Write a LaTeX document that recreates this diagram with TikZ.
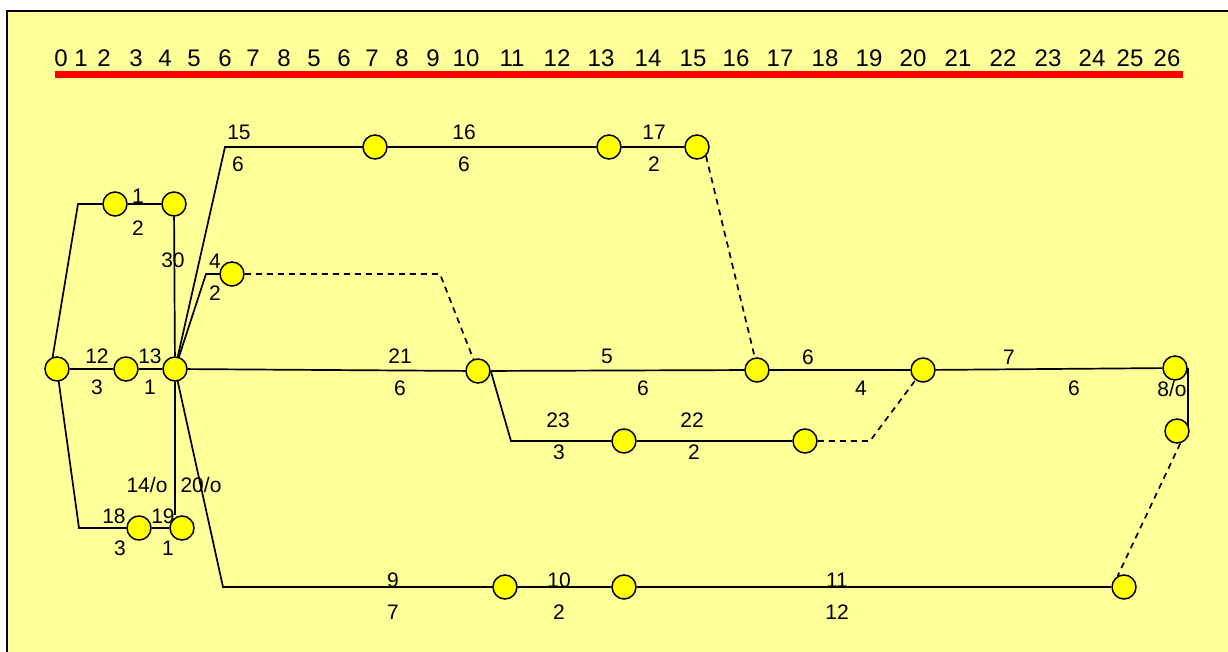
\documentclass[tikz,border=0pt]{standalone}
\usepackage{fontspec}
\setmainfont{Liberation Sans}
\pgfdeclarelayer{back}
\pgfdeclarelayer{bg}
\pgfsetlayers{back,bg,main}
\definecolor{paper}{RGB}{255,255,153}
\definecolor{ev}{RGB}{255,255,0}
\begin{document}
\begin{tikzpicture}[x=1pt,y=-1pt,
  event/.style={circle,draw=black,fill=ev,line width=1.5pt,minimum size=24pt,inner sep=0pt},
  lab/.style={font=\fontsize{21}{24}\selectfont,inner sep=0pt},
  tl/.style={font=\fontsize{24}{28}\selectfont,inner sep=0pt},
  act/.style={line width=1.7pt,draw=black},
  dum/.style={line width=1.7pt,draw=black,dash pattern=on 6pt off 5pt}]
\useasboundingbox (0,0) rectangle (1228,652);
\begin{pgfonlayer}{back}
  \fill[white] (0,0) rectangle (1228,652);
  \begin{scope}
    \clip (0,0) rectangle (1228,652);
    \filldraw[fill=paper,draw=black,line width=2pt] (7,11) rectangle (1240,670);
  \end{scope}
\end{pgfonlayer}

% time scale
\foreach \x/\t [count=\i] in {61/0,81/1,104/2,136/3,165/4,194/5,225/6,253/7,284/8,314/5,344/6,372/7,402/8,433/9,466/10,512/11,557/12,601/13,648/14,693/15,736/16,780/17,825/18,869/19,913/20,958/21,1003/22,1048/23,1092/24,1130/25,1167/26}
  \node[tl] (t\i) at (\x,58) {\t};
\coordinate (rl) at (55,75);
\coordinate (rr) at (1183,75);
\draw[red,line width=7pt] (rl) -- (rr);

% events
\node[event] (A) at (57,369) {};
\node[event] (B) at (126,369) {};
\node[event] (C) at (175,369) {};
\node[event] (D) at (115,204) {};
\node[event] (E) at (174,204) {};
\node[event] (F) at (232,274) {};
\node[event] (G) at (375,147) {};
\node[event] (H) at (609,147) {};
\node[event] (I) at (697,147) {};
\node[event] (J) at (478,371) {};
\node[event] (K) at (757,370) {};
\node[event] (L) at (923,370) {};
\node[event] (M) at (1175,368) {};
\node[event] (N) at (1177,431) {};
\node[event] (O) at (624,441) {};
\node[event] (P) at (805,441) {};
\node[event] (Q) at (139,528) {};
\node[event] (R) at (182,528) {};
\node[event] (S) at (505,587) {};
\node[event] (T) at (624,587) {};
\node[event] (U) at (1124,587) {};

% corners
\coordinate (c1) at (78,204);
\coordinate (c2) at (79,528);
\coordinate (c3) at (225,147);
\coordinate (c4) at (206,274);
\coordinate (c5) at (440,274);
\coordinate (c6) at (511,441);
\coordinate (c7) at (870,441);
\coordinate (c8) at (223,587);

\begin{pgfonlayer}{bg}
  \draw[act] (A.110) -- (c1) -- (D);
  \draw[act] (D) -- (E);
  \draw[act] (E) -- (C);
  \draw[act] (A.center) -- (c2) -- (Q);
  \draw[act] (Q) -- (R);
  \draw[act] (C) -- (C|-R.north);
  \draw[act] (A) -- (B);
  \draw[act] (B) -- (C);
  \draw[act] (C.center) -- (c3) -- (G);
  \draw[act] (G) -- (H);
  \draw[act] (H) -- (I);
  \draw[dum] (I.south east) -- (K.100);
  \draw[act] (C.center) -- (c4) -- (F);
  \draw[dum] (F) -- (c5) -- (J.center);
  \draw[act] (C) -- (J);
  \draw[act] (J) -- (K);
  \draw[act] (K) -- (L);
  \draw[act] (L) -- (M);
  \draw[act] (M.east) -- (M.east|-N);
  \draw[dum] (N.-75) -- (U.120);
  \draw[act] (J.east) -- (c6) -- (O);
  \draw[act] (O) -- (P);
  \draw[dum] (P) -- (c7) -- (L.center);
  \draw[act] (C.center) -- (c8) -- (S);
  \draw[act] (S) -- (T);
  \draw[act] (T) -- (U);
\end{pgfonlayer}

% activity labels
\node[lab] (l1a) at (138,196) {1};
\node[lab] (l1b) at (138,228) {2};
\node[lab] (l30) at (173,260) {30};
\node[lab] (l4a) at (215,261) {4};
\node[lab] (l4b) at (215,293) {2};
\node[lab] (l15a) at (239,132) {15};
\node[lab] (l15b) at (238,164) {6};
\node[lab] (l16a) at (464,132) {16};
\node[lab] (l16b) at (464,164) {6};
\node[lab] (l17a) at (654,132) {17};
\node[lab] (l17b) at (654,164) {2};
\node[lab] (l12a) at (97,356) {12};
\node[lab] (l12b) at (97,387) {3};
\node[lab] (l13a) at (150,356) {13};
\node[lab] (l13b) at (150,387) {1};
\node[lab] (l21a) at (400,356) {21};
\node[lab] (l21b) at (400,388) {6};
\node[lab] (l5a) at (607,356) {5};
\node[lab] (l5b) at (643,388) {6};
\node[lab] (l6a) at (808,357) {6};
\node[lab] (l6b) at (861,388) {4};
\node[lab] (l7a) at (1009,357) {7};
\node[lab] (l7b) at (1074,388) {6};
\node[lab] (l8) at (1172,389) {8/o};
\node[lab] (l23a) at (558,420) {23};
\node[lab] (l23b) at (559,452) {3};
\node[lab] (l22a) at (692,420) {22};
\node[lab] (l22b) at (694,452) {2};
\node[lab] (l14) at (147,485) {14/o};
\node[lab] (l20) at (201,485) {20/o};
\node[lab] (l18a) at (114,516) {18};
\node[lab] (l18b) at (120,548) {3};
\node[lab] (l19a) at (163,516) {19};
\node[lab] (l19b) at (168,548) {1};
\node[lab] (l9a) at (393,580) {9};
\node[lab] (l9b) at (393,612) {7};
\node[lab] (l10a) at (559,580) {10};
\node[lab] (l10b) at (559,612) {2};
\node[lab] (l11a) at (837,580) {11};
\node[lab] (l11b) at (837,612) {12};
\end{tikzpicture}
\end{document}
